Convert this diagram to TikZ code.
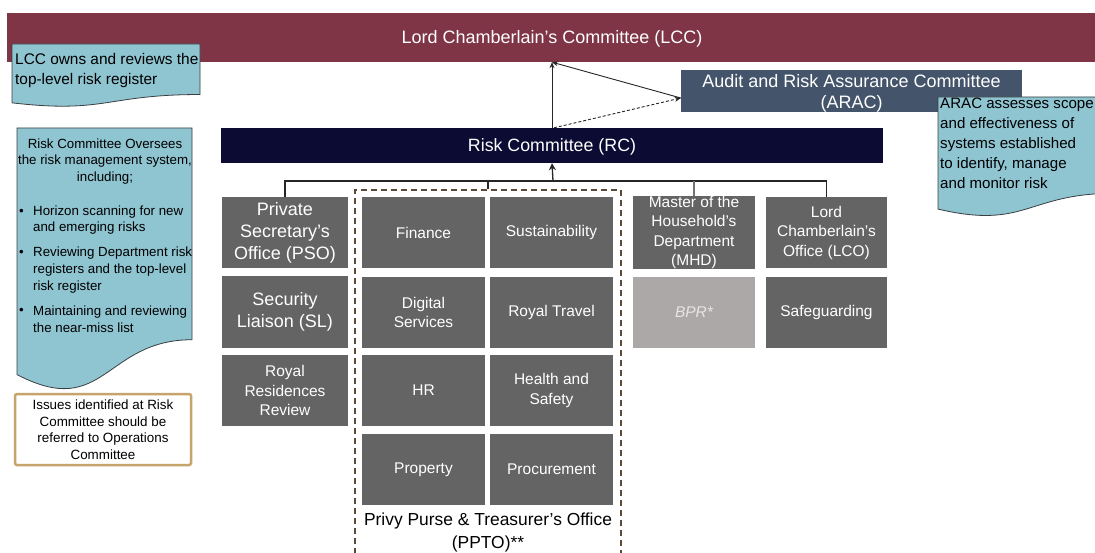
\documentclass[tikz,border=0pt]{standalone}
\usepackage{fontspec}
\setmainfont{Liberation Sans}
\usetikzlibrary{arrows.meta,calc}
\definecolor{lccred}{HTML}{7F3545}
\definecolor{notefill}{HTML}{8FC4D1}
\definecolor{noteline}{HTML}{3A3F42}
\definecolor{aracblue}{HTML}{44546A}
\definecolor{rcnavy}{HTML}{0B0B33}
\definecolor{boxgray}{HTML}{646464}
\definecolor{bprgray}{HTML}{ABA8A7}
\definecolor{bprtext}{HTML}{E6E6E6}
\definecolor{tanline}{HTML}{C6A46C}
\definecolor{dashbrown}{HTML}{5B4A38}
\newcommand{\myfs}[2]{\fontsize{#1}{#2}\selectfont}
\newcommand{\docshape}[4]{%
  \draw[notestyle] (#1,#2) -- (#3,#2) -- (#3,{#2+0.802*#4})
    .. controls ({(#1+#3)/2},{#2+0.802*#4}) and ({(#1+#3)/2},{#2+1.1075*#4}) ..
    (#1,{#2+0.934*#4}) -- cycle;}
\begin{document}
\begin{tikzpicture}[x=1pt,y=-1pt,
  notestyle/.style={fill=notefill,draw=noteline,line width=0.8pt},
  gbox/.style={fill=boxgray,text=white,minimum width=123pt,minimum height=71pt,
    inner sep=0pt,align=center,font=\myfs{15.5}{19.5}},
  bigbox/.style={gbox,font=\myfs{18}{22}},
  plain/.style={inner sep=0pt},
  conn/.style={draw=black!85,line width=1.3pt},
  arr/.style={draw=black!85,line width=0.9pt,-{Stealth[length=6pt,width=5pt]}},
  notetext/.style={inner sep=0pt,font=\myfs{13.3}{16.8}}]
\useasboundingbox (0,0) rectangle (1095,553);
\fill[white] (0,0) rectangle (1095,553);

% top banner
\node[fill=lccred,minimum width=1088pt,minimum height=49pt,inner sep=0pt] (LCC) at (551,37.5) {};
\node[plain,text=white,font=\myfs{18}{20}] (LCCt) at ($(LCC.center)+(1,1.5)$) {Lord Chamberlain’s Committee (LCC)};

% ARAC
\node[fill=aracblue,minimum width=341pt,minimum height=42pt,inner sep=0pt] (ARAC) at (851.5,91) {};
\node[plain,text=white,align=center,font=\myfs{18}{21}] (ARACt) at ($(ARAC.center)+(0,2)$)
  {Audit and Risk Assurance Committee\\(ARAC)};

% RC
\node[fill=rcnavy,minimum width=662pt,minimum height=35pt,inner sep=0pt] (RC) at (552,145.5) {};
\node[plain,text=white,font=\myfs{17.8}{20}] (RCt) at ($(RC.center)+(0,1.5)$) {Risk Committee (RC)};

% arrows between committees
\coordinate (tip) at (RC.north |- LCC.south);
\coordinate (aracin) at ($(ARAC.west)+(0,7)$);
\draw[arr] (RC.north) -- (tip);
\draw[arr] (aracin) -- (tip);
\draw[arr,dashed,dash pattern=on 3pt off 2pt] ($(RC.north)+(2,0)$) -- (aracin);

% LCC note
\docshape{12}{44}{200}{63}
\node[plain,anchor=west,align=left,font=\myfs{15.4}{20}] (lccnote) at (15,71)
  {LCC owns and reviews the\\top-level risk register};

% ARAC note
\docshape{938}{97}{1115}{120}
\node[plain,anchor=west,align=left,font=\myfs{15.1}{20}] (aracnote) at (940,143)
  {ARAC assesses scope\\and effectiveness of\\systems established\\to identify, manage\\and monitor risk};

% RC note
\docshape{17}{128}{192}{264}
\node[notetext,align=center] (rchead) at (105,161.5)
  {Risk Committee Oversees\\the risk management system,\\including;};
\node[notetext,anchor=west] (b1) at (19,212) {•};
\node[notetext,anchor=west,align=left] (t1) at (33,220) {Horizon scanning for new\\and emerging risks};
\node[notetext,anchor=west] (b2) at (19,253) {•};
\node[notetext,anchor=west,align=left] (t2) at (33,270) {Reviewing Department risk\\registers and the top-level\\risk register};
\node[notetext,anchor=west] (b3) at (19,311) {•};
\node[notetext,anchor=west,align=left] (t3) at (33,319) {Maintaining and reviewing\\the near-miss list};

% issues box
\node[draw=tanline,line width=2.5pt,rounded corners=2pt,fill=white,minimum width=176pt,
  minimum height=71pt,inner sep=0pt,align=center,font=\myfs{13.4}{16.5}] (issues) at (103,429.5)
  {Issues identified at Risk\\Committee should be\\referred to Operations\\Committee};

% PPTO dashed group
\node[draw=dashbrown,line width=1.3pt,dash pattern=on 6pt off 4pt,minimum width=266pt,
  minimum height=380pt,inner sep=0pt] (ppto) at (488,380) {};
\node[plain,align=center,font=\myfs{17.4}{23}] (pptolabel) at (488,532.5)
  {Privy Purse \& Treasurer’s Office\\(PPTO)**};

% column 1
\node[bigbox,minimum width=126pt] (PSO) at (285,232.5) {Private\\Secretary’s\\Office (PSO)};
\node[bigbox,minimum width=126pt] (SL) at (285,312) {Security\\Liaison (SL)};
\node[gbox,minimum width=126pt] (RRR) at (285,390.5) {Royal\\Residences\\Review};

% PPTO columns
\node[gbox] (fin) at (423.5,232.5) {Finance};
\node[gbox] (sus) at (551.5,232.5) {Sustainability};
\node[gbox] (dig) at (423.5,312.5) {Digital\\Services};
\node[gbox] (trav) at (551.5,312.5) {Royal Travel};
\node[gbox] (hr) at (423.5,390.5) {HR};
\node[gbox] (hs) at (551.5,390.5) {Health and\\Safety};
\node[gbox] (prop) at (423.5,469.5) {Property};
\node[gbox] (proc) at (551.5,469.5) {Procurement};

% column 4 and 5
\node[gbox,minimum width=122pt] (MHD) at (694,232.5) {Master of the\\Household’s\\Department\\(MHD)};
\node[gbox,minimum width=122pt,fill=bprgray,text=bprtext,font=\myfs{15.5}{19.5}\itshape] (BPR) at (694,312.5) {BPR*};
\node[gbox,minimum width=121pt] (LCO) at (826.5,232.5) {Lord\\Chamberlain’s\\Office (LCO)};
\node[gbox,minimum width=121pt] (safe) at (826.5,312.5) {Safeguarding};

% bus connectors
\coordinate (bus) at (553,181);
\draw[conn] (PSO.north) |- (bus -| LCO.north) -- (LCO.north);
\draw[conn] (ppto.north) -- (ppto.north |- bus);
\draw[conn,draw=black!55] (MHD.north) -- (MHD.north |- bus);
\draw[conn,-{Stealth[length=7pt,width=7pt]}] (bus) -- (RC.south);
\end{tikzpicture}
\end{document}
